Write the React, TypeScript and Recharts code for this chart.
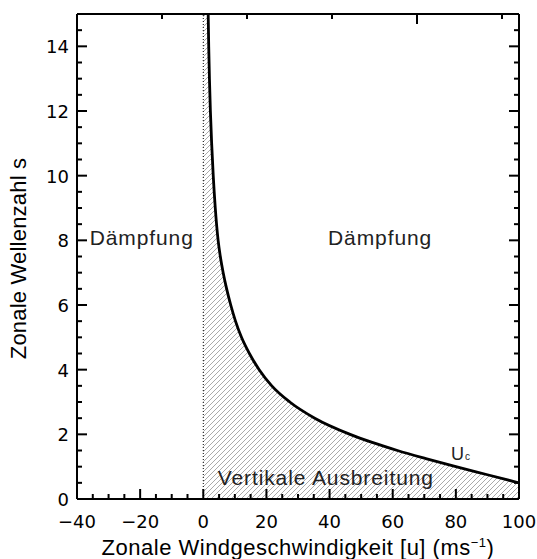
import {
  Area,
  ComposedChart,
  Line,
  ReferenceDot,
  ReferenceLine,
  XAxis,
  YAxis,
} from 'recharts';

// Zonale Wellenzahl s und kritische Windgeschwindigkeit U_c
const waveNumber = [
  15, 14, 13, 12, 11, 10, 9, 8, 7.5, 7, 6.5, 6, 5.5, 5, 4.5, 4, 3.5, 3, 2.5, 2, 1.75, 1.5, 1.25, 1, 0.75, 0.5,
];
const criticalWind = [
  1.55, 1.72, 1.95, 2.25, 2.65, 3.15, 3.8, 4.7, 5.4, 6.3, 7.4, 8.7, 10.2, 12.1, 14.6, 17.7, 21.7, 27.4, 35.3, 46.5,
  53.5, 61.5, 70.5, 80, 90, 100,
];

const xLabels = [-40, -20, 0, 20, 40, 60, 80, 100];
const yLabels = [0, 2, 4, 6, 8, 10, 12, 14];
const xTicks = Array.from({ length: 29 }, (_, i) => -40 + i * 5);
const yTicks = Array.from({ length: 31 }, (_, i) => i * 0.5);

const rows = [
  { u: 0, area: 15, curve: null as number | null },
  ...criticalWind.map((u, i) => ({ u, area: waveNumber[i], curve: waveNumber[i] })),
];

const FONT = '"Liberation Sans", Arial, sans-serif';
const TICK_FONT = '"DejaVu Sans", sans-serif';
const AXIS = { stroke: '#000', strokeWidth: 2 };
const TICK = { stroke: '#000', strokeWidth: 2 };

function BottomTick({ x, y, payload }: any) {
  const v = payload.value;
  const major = xLabels.includes(v);
  return (
    <g>
      <line x1={x} y1={y} x2={x} y2={y - (major ? 10 : 5)} {...TICK} style={TICK} />
      {major && (
        <text x={x} y={y + 29} textAnchor="middle" fontFamily={TICK_FONT} fontSize={18} fill="#000">
          {v < 0 ? `−${Math.abs(v)}` : v}
        </text>
      )}
    </g>
  );
}

function TopTick({ x, y, payload }: any) {
  const major = xLabels.includes(payload.value);
  return <line x1={x} y1={y} x2={x} y2={y + (major ? 10 : 5)} {...TICK} style={TICK} />;
}

function LeftTick({ x, y, payload }: any) {
  const v = payload.value;
  const major = yLabels.includes(v);
  return (
    <g>
      <line x1={x} y1={y} x2={x + (major ? 10 : 5)} y2={y} {...TICK} style={TICK} />
      {major && (
        <text x={x - 8} y={y + 7} textAnchor="end" fontFamily={TICK_FONT} fontSize={18} fill="#000">
          {v}
        </text>
      )}
    </g>
  );
}

function RightTick({ x, y, payload }: any) {
  const major = yLabels.includes(payload.value);
  return <line x1={x} y1={y} x2={x - (major ? 10 : 5)} y2={y} {...TICK} style={TICK} />;
}

function XTitle({ viewBox }: any) {
  const cx = viewBox.x + viewBox.width / 2;
  return (
    <text
      x={cx}
      y={viewBox.y + 56}
      textAnchor="middle"
      fontFamily={FONT}
      fontSize={22}
      letterSpacing={0.5}
      fill="#000"
    >
      <tspan>Zonale Windgeschwindigkeit [u] (ms</tspan>
      <tspan dy={-8} fontSize={13}>−1</tspan>
      <tspan dy={8}>)</tspan>
    </text>
  );
}

function YTitle({ viewBox }: any) {
  const cx = viewBox.x + 18;
  const cy = viewBox.y + viewBox.height / 2 + 2;
  return (
    <text
      x={cx}
      y={cy}
      transform={`rotate(-90, ${cx}, ${cy})`}
      textAnchor="middle"
      dominantBaseline="central"
      fontFamily={FONT}
      fontSize={22}
      letterSpacing={0.2}
      fill="#000"
    >
      Zonale Wellenzahl s
    </text>
  );
}

function regionText(text: string) {
  return ({ viewBox }: any) => (
    <text
      x={viewBox.x + viewBox.width / 2}
      y={viewBox.y + viewBox.height / 2}
      textAnchor="middle"
      dominantBaseline="central"
      fontFamily={FONT}
      fontSize={21}
      letterSpacing={0.9}
      fill="#222"
    >
      {text}
    </text>
  );
}

function UcLabel({ viewBox }: any) {
  return (
    <text x={viewBox.x} y={viewBox.y + 7} textAnchor="middle" fontFamily={FONT} fontSize={18} fill="#222">
      U<tspan fontSize={10} dx={1}>c</tspan>
    </text>
  );
}

export default function App() {
  return (
    <div style={{ position: 'absolute', left: 0, top: 0, width: 537, height: 559, background: '#fff' }}>
      <svg width={0} height={0} style={{ position: 'absolute' }}>
        <defs>
          <pattern id="hatch" patternUnits="userSpaceOnUse" width={5} height={5}>
            <path d="M0,5 L5,0 M-1,1 L1,-1 M4,6 L6,4" stroke="#a0a0a0" strokeWidth={0.9} />
          </pattern>
        </defs>
      </svg>
      <ComposedChart width={537} height={559} data={rows} margin={{ top: 0, right: 0, bottom: 0, left: 0 }}>
        <Area
          dataKey="area"
          type="monotone"
          stroke="none"
          fill="url(#hatch)"
          fillOpacity={1}
          baseValue={0}
          isAnimationActive={false}
          dot={false}
          activeDot={false}
        />
        <ReferenceLine x={0} stroke="#000" strokeWidth={1} strokeDasharray="1 2" />
        <Line
          dataKey="curve"
          type="monotone"
          stroke="#000"
          strokeWidth={2.8}
          dot={false}
          activeDot={false}
          isAnimationActive={false}
        />
        <XAxis
          dataKey="u"
          type="number"
          domain={[-40, 100]}
          ticks={xTicks}
          interval={0}
          allowDataOverflow
          height={60}
          stroke="#000"
          axisLine={AXIS}
          tickLine={false}
          tickSize={0}
          tickMargin={0}
          tick={<BottomTick />}
          label={{ content: XTitle }}
        />
        <XAxis
          xAxisId="top"
          orientation="top"
          type="number"
          domain={[-40, 100]}
          ticks={xTicks}
          interval={0}
          allowDataOverflow
          height={14}
          stroke="#000"
          axisLine={AXIS}
          tickLine={false}
          tickSize={0}
          tickMargin={0}
          tick={<TopTick />}
        />
        <YAxis
          type="number"
          domain={[0, 15]}
          ticks={yTicks}
          interval={0}
          allowDataOverflow
          width={77}
          stroke="#000"
          axisLine={AXIS}
          tickLine={false}
          tickSize={0}
          tickMargin={0}
          tick={<LeftTick />}
          label={{ content: YTitle }}
        />
        <YAxis
          yAxisId="right"
          orientation="right"
          type="number"
          domain={[0, 15]}
          ticks={yTicks}
          interval={0}
          allowDataOverflow
          width={18}
          stroke="#000"
          axisLine={AXIS}
          tickLine={false}
          tickSize={0}
          tickMargin={0}
          tick={<RightTick />}
        />
        <ReferenceDot x={-19.5} y={8.1} r={0} fill="none" stroke="none" label={{ content: regionText('Dämpfung') }} />
        <ReferenceDot x={56} y={8.1} r={0} fill="none" stroke="none" label={{ content: regionText('Dämpfung') }} />
        <ReferenceDot
          x={38.8}
          y={0.68}
          r={0}
          fill="none"
          stroke="none"
          label={{ content: regionText('Vertikale Ausbreitung') }}
        />
        <ReferenceDot x={81.5} y={1.42} r={0} fill="none" stroke="none" label={{ content: UcLabel }} />
      </ComposedChart>
    </div>
  );
}
